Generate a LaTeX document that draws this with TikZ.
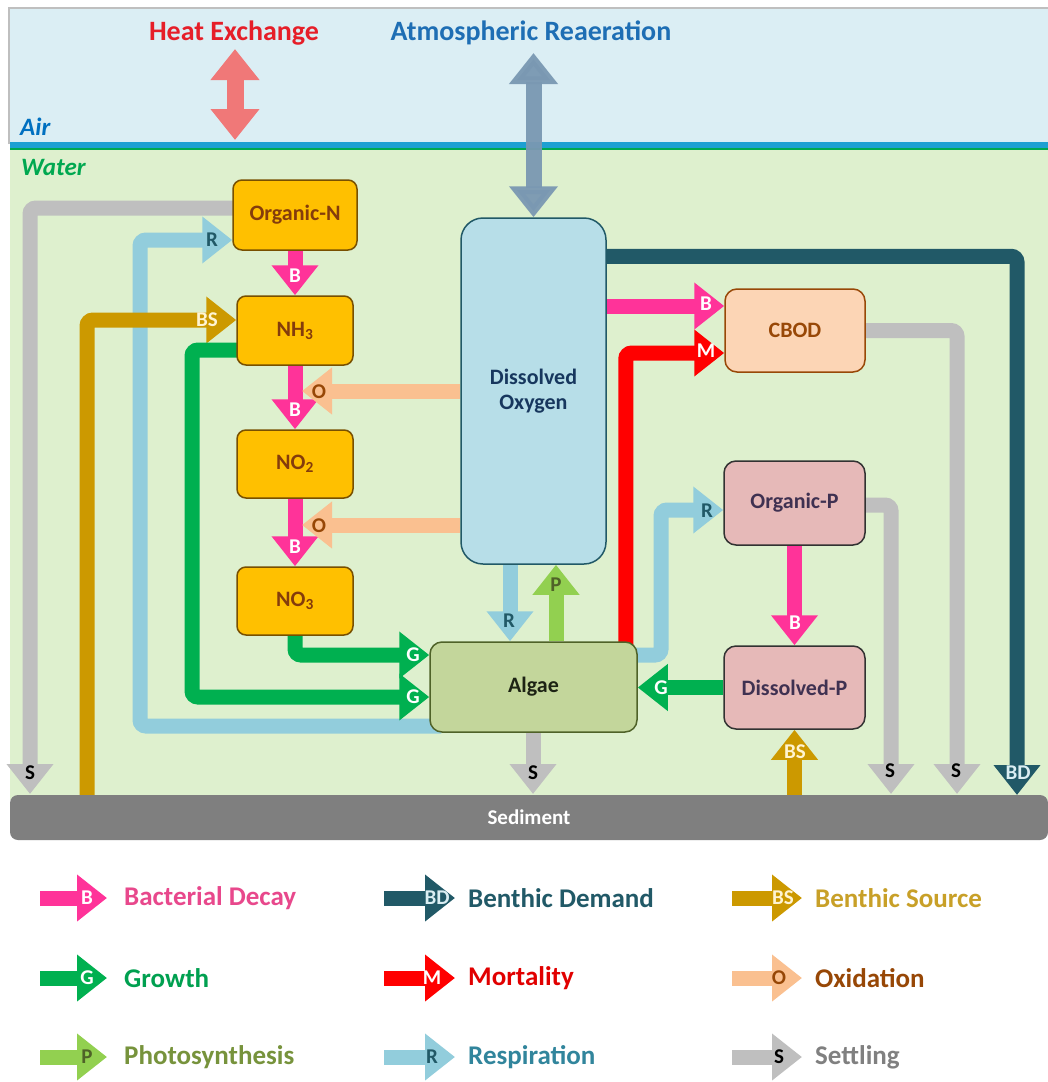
\documentclass[tikz,border=0pt]{standalone}
\usepackage{fontspec}
\setmainfont{Carlito}
\usetikzlibrary{arrows.meta,calc}
\pgfdeclarelayer{back}
\pgfdeclarelayer{mid}
\pgfsetlayers{back,mid,main}
\definecolor{sky}{RGB}{219,238,244}
\definecolor{water}{RGB}{222,240,206}
\definecolor{wline}{RGB}{30,160,210}
\definecolor{wgreen}{RGB}{0,168,80}
\definecolor{sedc}{RGB}{127,127,127}
\definecolor{cN}{RGB}{255,192,0}
\definecolor{cNd}{RGB}{120,80,0}
\definecolor{cNt}{RGB}{132,60,12}
\definecolor{cDO}{RGB}{183,222,232}
\definecolor{cDOd}{RGB}{33,89,103}
\definecolor{cDOt}{RGB}{23,55,94}
\definecolor{cCB}{RGB}{252,213,181}
\definecolor{cCBd}{RGB}{152,72,7}
\definecolor{cP}{RGB}{230,185,184}
\definecolor{cPd}{RGB}{50,50,50}
\definecolor{cPt}{RGB}{63,49,81}
\definecolor{cAl}{RGB}{195,214,155}
\definecolor{cAld}{RGB}{79,98,40}
\definecolor{cAlt}{RGB}{29,35,20}
\definecolor{aB}{RGB}{255,51,153}
\definecolor{aG}{RGB}{0,176,80}
\definecolor{aM}{RGB}{255,0,0}
\definecolor{aBD}{RGB}{33,89,103}
\definecolor{aBS}{RGB}{204,153,0}
\definecolor{aO}{RGB}{250,192,144}
\definecolor{aP}{RGB}{146,208,80}
\definecolor{aR}{RGB}{146,205,220}
\definecolor{aS}{RGB}{191,191,191}
\definecolor{tR}{RGB}{33,89,103}
\definecolor{tO}{RGB}{151,71,6}
\definecolor{tP}{RGB}{79,98,40}
\definecolor{tBS}{RGB}{255,244,210}
\definecolor{tBD}{RGB}{218,238,243}
\definecolor{lB}{RGB}{232,72,140}
\definecolor{lBD}{RGB}{33,89,103}
\definecolor{lBS}{RGB}{200,160,40}
\definecolor{lG}{RGB}{0,160,80}
\definecolor{lM}{RGB}{225,0,0}
\definecolor{lO}{RGB}{151,71,6}
\definecolor{lP}{RGB}{119,147,60}
\definecolor{lR}{RGB}{49,133,156}
\definecolor{lS}{RGB}{128,128,128}
\definecolor{heat}{RGB}{240,120,120}
\definecolor{atm}{RGB}{122,152,178}
\definecolor{tHeat}{RGB}{230,30,40}
\definecolor{tAtm}{RGB}{30,110,180}
\definecolor{tAir}{RGB}{0,112,192}
\begin{document}
\begin{tikzpicture}[x=1pt,y=-1pt,
  box/.style={draw,line width=1.5pt,rounded corners=9pt,inner sep=0pt,align=center,font=\bfseries\fontsize{22}{25}\selectfont},
  flow/.style={line width=15pt,-{Triangle[width=45pt,length=30pt]},rounded corners=6pt},
  lab/.style={inner sep=0pt,font=\bfseries\fontsize{21}{21}\selectfont},
  leg/.style={anchor=west,inner sep=0pt,font=\bfseries\fontsize{27}{27}\selectfont},
  ttl/.style={inner sep=0pt,font=\bfseries\fontsize{28}{28}\selectfont},
  dbl/.style={{Triangle[width=47pt,length=31pt]}-{Triangle[width=47pt,length=31pt]}}]
\useasboundingbox (0,0) rectangle (1048,1082);
\begin{pgfonlayer}{back}
\fill[white] (0,0) rectangle (1048,1082);
\fill[sky] (10,8) rectangle (1048,144);
\draw[black!25,line width=1.5pt] (9,144) -- (9,8) -- (1048,8);
\fill[water] (10,148) rectangle (1048,800);
\fill[wline] (10,142) rectangle (1048,148);
\draw[wgreen,line width=2pt] (10,149) -- (1048,149);
\end{pgfonlayer}

% titles
\node[ttl,text=tHeat] (theat) at (234,33) {Heat Exchange};
\node[ttl,text=tAtm] (tatm) at (531,33) {Atmospheric Reaeration};
\node[anchor=west,inner sep=0pt,text=tAir,font=\bfseries\itshape\fontsize{25}{25}\selectfont] (tair) at (20,127) {Air};
\node[anchor=west,inner sep=0pt,text=wgreen,font=\bfseries\itshape\fontsize{25}{25}\selectfont] (twater) at (21,167) {Water};

% sediment
\node[fill=sedc,rounded corners=8pt,minimum width=1038pt,minimum height=45pt,inner sep=0pt,text=white,font=\bfseries\fontsize{21}{21}\selectfont] (sed) at (529,817.5) {Sediment};

% boxes
\node[box,fill=cN,draw=cNd,text=cNt,minimum width=124pt,minimum height=70pt] (orgN) at (295,215) {Organic-N};
\node[box,fill=cN,draw=cNd,text=cNt,minimum width=116pt,minimum height=69pt] (nh3) at (295,330.5) {NH\textsubscript{3}};
\node[box,fill=cN,draw=cNd,text=cNt,minimum width=116pt,minimum height=68pt] (no2) at (295,464) {NO\textsubscript{2}};
\node[box,fill=cN,draw=cNd,text=cNt,minimum width=116pt,minimum height=68pt] (no3) at (295,601) {NO\textsubscript{3}};
\node[box,fill=cDO,draw=cDOd,text=cDOt,minimum width=145pt,minimum height=346pt,rounded corners=22pt] (do) at (533.5,391) {Dissolved\\Oxygen};
\node[box,fill=cCB,draw=cCBd,text=cCBd,minimum width=140pt,minimum height=83pt,rounded corners=12pt] (cbod) at (795,330.5) {CBOD};
\node[box,fill=cP,draw=cPd,text=cPt,minimum width=141pt,minimum height=84pt,rounded corners=12pt] (orgP) at (794.5,503) {Organic-P};
\node[box,fill=cP,draw=cPd,text=cPt,minimum width=141pt,minimum height=83pt,rounded corners=12pt] (disP) at (794.5,687.5) {Dissolved-P};
\node[box,fill=cAl,draw=cAld,text=cAlt,minimum width=207pt,minimum height=90pt,rounded corners=12pt] (algae) at (533.5,687) {Algae};

% free-end coordinates
\coordinate (h1) at (235,49);
\coordinate (h2) at (235,140);
\coordinate (a1) at (533.5,53);
\coordinate (s1) at (30,794);
\coordinate (r1) at (140,240);
\coordinate (bs1) at (87,805);
\coordinate (g1) at (192,697);
\coordinate (o1) at (302,391);
\coordinate (o2) at (302,525);
\coordinate (b1) at ($(cbod.west)+(0,-24.5)$);
\coordinate (bd1) at (1017,795);
\coordinate (s2) at (957,794);
\coordinate (s3) at (891,794);
\coordinate (r2) at (661,510);
\coordinate (bs2) at (794.5,805);
\coordinate (r3) at (510,600);
\coordinate (p1) at (556,600);
\coordinate (s4) at (533,794);

\begin{pgfonlayer}{mid}
\draw[line width=17pt,heat,dbl] (h1) -- (h2);
\draw[line width=16pt,atm,opacity=0.95,dbl] (a1) -- (do.north);
\draw[flow,aS] ($(orgN.west)+(6,-7)$) -| (s1);
\draw[flow,aR] ($(algae.west)+(12,39)$) -| (r1) -- ($(orgN.west)+(0,25)$);
\draw[flow,aBS] (bs1) |- ($(nh3.west)+(0,-10.5)$);
\draw[flow,aG] ($(nh3.west)+(6,19.5)$) -| (g1) -- ($(algae.west)+(0,10)$);
\draw[flow,aG] ($(no3.south)+(0,-6)$) |- ($(algae.west)+(0,-32)$);
\draw[flow,aB] (orgN.south) -- (nh3.north);
\draw[flow,aB] (nh3.south) -- (no2.north);
\draw[flow,aB] (no2.south) -- (no3.north);
\draw[flow,aO] (do.west) -- (o1);
\draw[flow,aO] (do.west |- o2) -- (o2);
\draw[flow,aB] (do.east |- b1) -- (b1);
\draw[flow,aM] ($(algae.north east)+(-12,6)$) |- ($(cbod.west)+(0,22.5)$);
\draw[flow,aBD] ($(do.north east)+(-6,39)$) -| (bd1);
\draw[flow,aS] ($(cbod.east)+(-6,0)$) -| (s2);
\draw[flow,aS] ($(orgP.east)+(-6,2)$) -| (s3);
\draw[flow,aR] ($(algae.east)+(-6,-32)$) -| (r2) -- ($(orgP.west)+(0,7)$);
\draw[flow,aB] (orgP.south) -- (disP.north);
\draw[flow,aG] (disP.west) -- (disP.west -| algae.east);
\draw[flow,aBS] (bs2) -- (disP.south);
\draw[flow,aR] (do.south -| r3) -- (algae.north -| r3);
\draw[flow,aP] (algae.north -| p1) -- (do.south -| p1);
\draw[flow,aS] (algae.south -| s4) -- (s4);
\end{pgfonlayer}

% arrow labels
\node[lab,black] (ls1) at (30,773) {S};
\node[lab,text=tR] (lr1) at (212,240) {R};
\node[lab,text=tBS] (lbs1) at (207,320) {BS};
\node[lab,white] (lg1) at (413,697) {G};
\node[lab,white] (lg2) at (413,655) {G};
\node[lab,white] (lb1) at (295,276) {B};
\node[lab,white] (lb2) at (295,410) {B};
\node[lab,white] (lb3) at (295,547) {B};
\node[lab,text=tO] (lo1) at (319,392) {O};
\node[lab,text=tO] (lo2) at (319,526) {O};
\node[lab,white] (lb4) at (706,304) {B};
\node[lab,white] (lm1) at (706,351) {M};
\node[lab,text=tBD] (lbd1) at (1018,773) {BD};
\node[lab,black] (ls2) at (956,771) {S};
\node[lab,black] (ls3) at (890,771) {S};
\node[lab,text=tR] (lr2) at (707,511) {R};
\node[lab,white] (lb5) at (795,623) {B};
\node[lab,white] (lg3) at (661,688) {G};
\node[lab,text=tBS] (lbs2) at (795,752) {BS};
\node[lab,text=tR] (lr3) at (509,621) {R};
\node[lab,text=tP] (lp1) at (556,585) {P};
\node[lab,black] (ls4) at (533,773) {S};

% legend
\coordinate (e1a) at (40,898);  \coordinate (e1b) at (107,898);
\coordinate (e2a) at (384,898); \coordinate (e2b) at (455,898);
\coordinate (e3a) at (732,898); \coordinate (e3b) at (802,898);
\coordinate (e4a) at (40,978);  \coordinate (e4b) at (107,978);
\coordinate (e5a) at (384,978); \coordinate (e5b) at (455,978);
\coordinate (e6a) at (732,978); \coordinate (e6b) at (802,978);
\coordinate (e7a) at (40,1057);  \coordinate (e7b) at (107,1057);
\coordinate (e8a) at (384,1057); \coordinate (e8b) at (455,1057);
\coordinate (e9a) at (732,1057); \coordinate (e9b) at (802,1057);
\draw[flow,aB] (e1a) -- (e1b);
\draw[flow,aBD] (e2a) -- (e2b);
\draw[flow,aBS] (e3a) -- (e3b);
\draw[flow,aG] (e4a) -- (e4b);
\draw[flow,aM] (e5a) -- (e5b);
\draw[flow,aO] (e6a) -- (e6b);
\draw[flow,aP] (e7a) -- (e7b);
\draw[flow,aR] (e8a) -- (e8b);
\draw[flow,aS] (e9a) -- (e9b);
\node[lab,white] (k1) at (87,898) {B};
\node[lab,text=tBD] (k2) at (437,898) {BD};
\node[lab,text=tBS] (k3) at (783,898) {BS};
\node[lab,white] (k4) at (87,978) {G};
\node[lab,white] (k5) at (432,978) {M};
\node[lab,text=tO] (k6) at (779,978) {O};
\node[lab,text=tP] (k7) at (87,1057) {P};
\node[lab,text=tR] (k8) at (432,1057) {R};
\node[lab,black] (k9) at (779,1057) {S};
\node[leg,text=lB] (t1) at (124,898) {Bacterial Decay};
\node[leg,text=lBD] (t2) at (468,898) {Benthic Demand};
\node[leg,text=lBS] (t3) at (815,898) {Benthic Source};
\node[leg,text=lG] (t4) at (124,978) {Growth};
\node[leg,text=lM] (t5) at (468,978) {Mortality};
\node[leg,text=lO] (t6) at (815,978) {Oxidation};
\node[leg,text=lP] (t7) at (124,1057) {Photosynthesis};
\node[leg,text=lR] (t8) at (468,1057) {Respiration};
\node[leg,text=lS] (t9) at (815,1057) {Settling};
\end{tikzpicture}
\end{document}
